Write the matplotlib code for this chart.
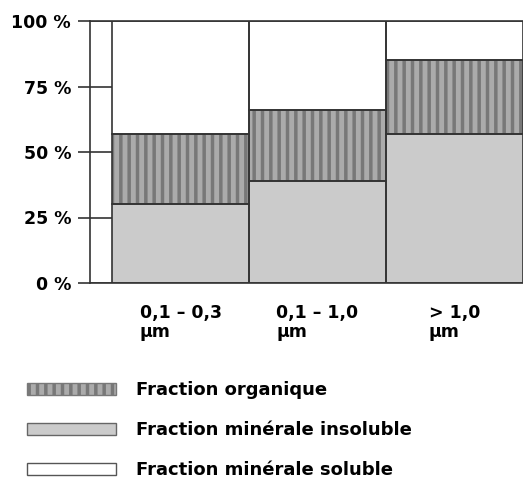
import matplotlib.pyplot as plt
from matplotlib.patches import Patch
import numpy as np

plt.rcParams['font.family'] = ['DejaVu Sans']
plt.rcParams['hatch.linewidth'] = 2.5

# particle size classes
categories = ["0,1 \u2013 0,3\n\u00b5m", "0,1 \u2013 1,0\n\u00b5m", "> 1,0\n\u00b5m"]
# percentages (stacked)
mineral_insoluble = [30, 39, 57]
organic = [27, 27, 28]
mineral_soluble = [43, 34, 15]
yticks = [0, 25, 50, 75, 100]
ytick_labels = ["0 %", "25 %", "50 %", "75 %", "100 %"]
legend_labels = ["Fraction organique", "Fraction min\u00e9rale insoluble",
                 "Fraction min\u00e9rale soluble"]

line_col = "#333333"
org_face, org_stripe = "#ababab", "#787878"
ins_face = "#cbcbcb"

fig = plt.figure(figsize=(5.23, 4.82), dpi=100)
ax = fig.add_axes([90 / 523, 199 / 482, 433 / 523, 262 / 482])

x = np.arange(len(categories))
ins = np.array(mineral_insoluble)
org = np.array(organic)
sol = np.array(mineral_soluble)

ax.bar(x, ins, width=1, align="edge", color=ins_face, linewidth=0)
ax.bar(x, org, bottom=ins, width=1, align="edge", color=org_face,
       hatch="||", edgecolor=org_stripe, linewidth=0)
ax.bar(x, sol, bottom=ins + org, width=1, align="edge", color="white", linewidth=0)
# outlines
ax.bar(x, ins, width=1, align="edge", fill=False, edgecolor=line_col, linewidth=1.2)
ax.bar(x, org, bottom=ins, width=1, align="edge", fill=False, edgecolor=line_col, linewidth=1.2)
ax.bar(x, sol, bottom=ins + org, width=1, align="edge", fill=False, edgecolor=line_col, linewidth=1.2)

xmin = -22 / 137
ax.set_xlim(xmin, 3.0)
ax.set_ylim(0, 100)

# tick segments between axis and first bar
ax.hlines(yticks, xmin, 0, color=line_col, linewidth=1.2)

ax.set_yticks(yticks)
ax.set_yticklabels(ytick_labels, fontsize=12.5, fontweight="bold")
ax.tick_params(axis="y", length=8.6, width=1.2, color=line_col, pad=5)
ax.set_xticks(x + 0.5)
ax.set_xticklabels(categories, fontsize=12.5, fontweight="bold",
                   multialignment="left", linespacing=1.05)
ax.tick_params(axis="x", length=0, pad=15)

for s in ["left", "bottom", "top"]:
    ax.spines[s].set_color(line_col)
    ax.spines[s].set_linewidth(1.2)
ax.spines["right"].set_visible(False)

handles = [
    Patch(facecolor=org_face, hatch="||", edgecolor=org_stripe),
    Patch(facecolor=ins_face, edgecolor="#666666"),
    Patch(facecolor="white", edgecolor="#555555"),
]
fig.legend(handles, legend_labels, loc="upper left", bbox_to_anchor=(11 / 523, 1 - 365 / 482),
           frameon=False, handlelength=4.9, handleheight=0.65, labelspacing=1.22,
           handletextpad=1.1, prop={"size": 13, "weight": "bold"})

plt.savefig("out.png", dpi=100)
